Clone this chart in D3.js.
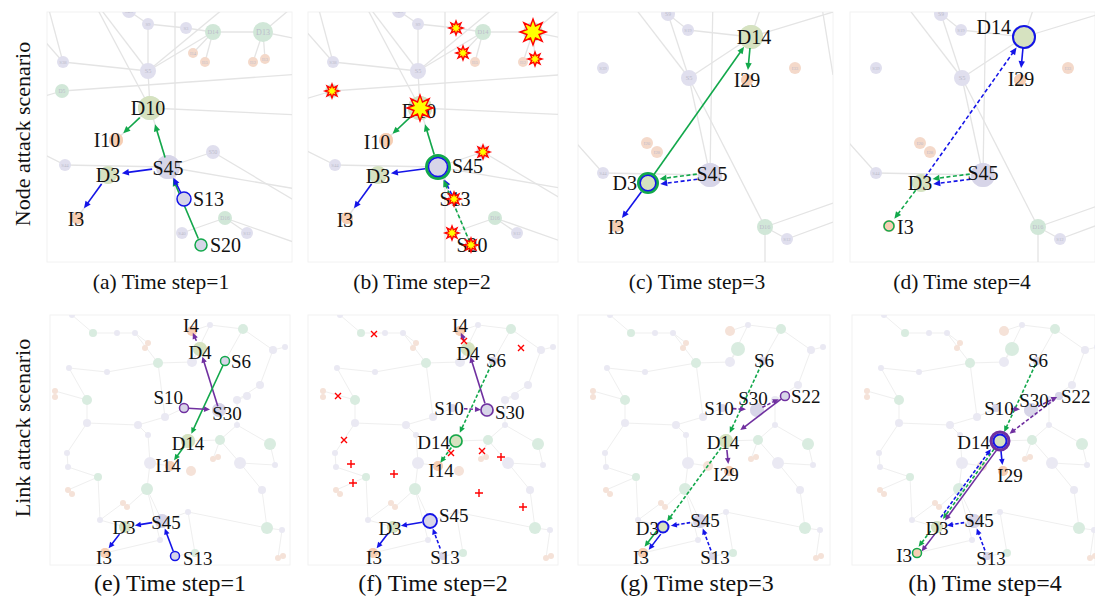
<!DOCTYPE html>
<html>
<head>
<meta charset="utf-8">
<script src="https://cdn.jsdelivr.net/npm/d3@7"></script>
<style>
  body { margin: 0; background: #fff; }
  text { font-family: "Liberation Serif", "Times New Roman", serif; }
</style>
</head>
<body>
<svg id="fig" width="1095" height="597"></svg>
<script>
// ---- graph layouts: [name, x, y, kind, radius]  (kind: p switch, g green, o orange, x off-panel anchor)
const nodesA = [
  ["S29",89,11,"p",7],["S9",108,24,"p",6],["S3",146,28,"p",6],["D14",173,32,"g",8],["D13",223,32,"g",10],
  ["I14",153,53,"o",5],["I15",165,62,"o",5],["I12",213,62,"o",5],["I13",225,59,"o",5],["S38",23,62,"p",6],
  ["S5",108,71,"p",8],["D5",22,91,"g",7],["D10",110,108,"g",12],["I10",76,140,"o",7],["S50",173,152,"p",7],
  ["S44",25,165,"p",6],["D3",68,175,"g",9],["S45",128,167,"p",12],["I3",37,218,"o",6],["S13",144,199,"p",6],
  ["D16",185,218,"g",7],["S40",142,233,"p",6],["S12",207,233,"p",6],["S20",161,245,"p",6],
  ["xa1",5,-5,"x",0],["xa2",50,-5,"x",0],["xa3",135,-5,"x",0],["xa4",255,5,"x",0],["xa5",262,40,"x",0],
  ["xa6",-5,99,"x",0],["xa7",262,74,"x",0],["xa8",262,115,"x",0],["xa9",-5,150,"x",0],["xa10",262,190,"x",0],
  ["xa11",135,265,"x",0],["xa12",262,245,"x",0],["xa13",262,205,"x",0],["xa14",200,-5,"x",0],["xa15",-5,30,"x",0]
];
const edgesA = [
  ["S29","S9"],["S9","S3"],["S3","D14"],["D14","D13"],["D13","xa4"],["D13","xa5"],["D14","I14"],["D14","I15"],
  ["D13","I12"],["D13","I13"],["S9","S5"],["S5","D10"],["S5","D14"],["xa2","S5"],["xa15","S38"],["xa1","S38"],
  ["xa6","D5"],["D5","xa7"],["D10","xa8"],["S45","D10"],["D10","I10"],["S45","S44"],["S44","xa9"],["S45","S50"],
  ["S45","xa10"],["xa3","xa11"],["S50","xa13"],["D16","S12"],["S40","D16"],["D16","xa12"],["S20","S45"],
  ["D3","I3"],["xa2","D10"],["S5","xa14"],["S38","S5"]
];

const nodesC = [
  ["S9",103,14,"p",7],["S19",123,30,"p",6],["D14",186,37,"g",12],["S39",38,68,"p",6],["S5",124,78,"p",8],
  ["I29",182,80,"o",6],["I33",230,68,"o",6],["I20",82,143,"o",6],["I28",92,152,"o",6],["S44",38,173,"p",6],
  ["D3",83,183,"g",9],["S45",145,175,"p",12],["I3",51,226,"o",6],["D16",200,227,"g",8],["S12",222,239,"p",6],
  ["xc1",60,-5,"x",0],["xc2",148,-5,"x",0],["xc3",200,-5,"x",0],["xc4",268,12,"x",0],["xc5",255,-5,"x",0],
  ["xc6",268,75,"x",0],["xc7",-5,125,"x",0],["xc8",268,203,"x",0],["xc9",268,222,"x",0],["xc10",200,268,"x",0]
];
const edgesC = [
  ["S9","S19"],["S19","D14"],["D14","xc4"],["xc3","D14"],["S5","D14"],["xc1","S5"],["S9","S5"],["xc2","S45"],
  ["S5","S45"],["S5","D16"],["D16","S12"],["D16","xc8"],["S12","xc9"],["D16","xc10"],["S44","S45"],
  ["xc7","S44"],["xc5","xc6"]
];

const nodesE = [
  ["I4",152,31,"o",5],["D4",160,49,"g",7],["S6",185,61,"p",4],["S10",144,108,"p",4],["S30",179,110,"p",7],
  ["S22",207,96,"p",4],["D14",148,141,"g",7],["I14",130,166,"o",5],["I29",151,171,"o",5],["S45",122,221,"p",7],
  ["D3",85,227,"g",6],["I3",65,253,"o",5],["S13",135,256,"p",4],
  ["G1",53,33,"g",4],["G2",203,29,"g",5],["G3",118,63,"g",5],["G4",47,100,"g",5],["G5",180,140,"g",5],
  ["G6",230,144,"g",6],["G7",58,177,"g",4],["G8",107,189,"g",6],["G9",227,228,"g",6],["G10",155,253,"g",4],
  ["P1",32,15,"p",3],["P2",77,33,"p",3],["P3",95,33,"p",3],["P4",152,62,"p",5],["P5",233,50,"p",4],
  ["P6",245,47,"p",3],["P7",29,68,"p",3],["P8",67,72,"p",3],["P9",220,85,"p",4],["P10",197,100,"p",4],
  ["P11",125,117,"p",4],["P12",47,123,"p",4],["P13",98,125,"p",4],["P14",197,125,"p",3],["P15",108,135,"p",3],
  ["P16",27,153,"p",3],["P17",28,167,"p",3],["P18",110,163,"p",6],["P19",200,163,"p",6],["P20",235,165,"p",3],
  ["P21",222,190,"p",4],["P22",148,212,"p",3],["P23",60,220,"p",3],["P24",242,230,"p",3],["P25",170,25,"p",3],
  ["P26",120,240,"p",3],
  ["O1",105,48,"o",3],["O2",108,43,"o",3],["O3",15,97,"o",3],["O4",15,91,"o",3],["O5",173,159,"o",3],
  ["O6",178,157,"o",3],["O7",28,190,"o",3],["O8",32,194,"o",3],["O9",83,203,"o",3],["O10",87,207,"o",3],
  ["O11",238,258,"o",3],["O12",243,256,"o",3]
];
const edgesE = [
  ["G1","P2"],["P2","P3"],["P3","O2"],["O1","O2"],["P3","G3"],["G3","P4"],["P4","D4"],["G3","P8"],["P8","P7"],
  ["P7","G4"],["G4","O4"],["O3","O4"],["G4","P12"],["P12","P16"],["P16","P17"],["P17","G7"],["G7","O7"],
  ["O7","O8"],["G7","P23"],["P23","O9"],["O9","O10"],["O10","G8"],["G8","P18"],["P18","P15"],["P15","P13"],
  ["P13","P12"],["P13","P11"],["P11","S10"],["P11","G3"],["G8","S45"],["S45","P22"],["P22","G10"],["G10","S13"],
  ["P22","G9"],["G9","P24"],["G9","P21"],["P21","P19"],["P19","P20"],["P20","G6"],["G6","P14"],["P14","G5"],
  ["G5","O5"],["O5","O6"],["G5","D14"],["P14","P10"],["P10","S22"],["P9","P10"],["P9","P5"],["P5","P6"],
  ["P5","G2"],["G2","P25"],["P25","I4"],["G2","S6"],["P1","G1"],["P18","I14"],["D3","S45"],["P23","D3"],
  ["G8","P26"],["P26","I3"],["O12","O11"],["O11","P24"],["P19","G5"],["P4","P25"]
];

// ---- per panel content
const captions = ["(a) Time step=1","(b) Time step=2","(c) Time step=3","(d) Time step=4",
                  "(e) Time step=1","(f) Time step=2","(g) Time step=3","(h) Time step=4"];
const rowTitles = ["Node attack scenario","Link attack scenario"];

// arrows: [from, to, colour, dashed, lane, trimStart, trimEnd]
const arrowsA = [["S20","S45","g",0,0,7,13],["S13","S45","b",0,0,7,12],["S45","D10","g",0,0,10,17],
  ["D10","I10","g",0,0,14,10],["S45","D3","b",0,0,16,14],["D3","I3","b",0,0,11,12]];
const arrowsB = [["S45","D10","g",0,0,13,17],["D10","I10","g",0,0,13,9],["S45","D3","b",0,0,13,13],
  ["D3","I3","b",0,0,11,12],["S13","S45","b",1,0,5,14],["S20","S45","g",1,0,3,14]];
const arrowsC = [["D3","D14","g",0,0,10,12],["D14","I29","g",0,0,11,10],["S45","D3","g",1,-1,13,12],
  ["S45","D3","b",1,1,13,12],["D3","I3","b",0,0,11,10]];
const arrowsD = [["D3","D14","b",1,0,7,13],["D14","I29","b",0,0,11,12],["S45","D3","g",1,-1,13,12],
  ["S45","D3","b",1,1,13,12],["D3","I3","g",1,0,9,9]];
const arrowsE = [["S30","D4","p",0,0,4,8],["D4","I4","p",0,0,9,2],["S6","D14","g",0,0,3,8],
  ["D14","I14","g",0,0,7,7],["S10","S30","p",0,0,4,9],["S45","D3","b",0,0,10,10],["D3","I3","b",0,0,9,6],
  ["S13","S45","b",0,0,5,8]];
const arrowsF = [["S30","D4","p",0,0,7,8],["D4","I4","p",0,0,9,2],["S6","D14","g",1,0,4,9],
  ["D14","I14","g",1,0,8,4],["S10","S30","p",1,0,12,6],["S45","D3","b",0,0,8,8],["D3","I3","b",0,0,8,6],
  ["S13","S45","b",1,0,8,8]];
const arrowsG = [["S6","D14","g",1,0,4,9],["D14","D3","g",1,0,8,7],["D3","I3","g",0,-1,7,6],
  ["D3","I3","b",0,1,7,6],["S10","S30","p",1,0,11,11],["S30","S22","p",1,0,6,7],["S22","D14","p",0,0,5,18],
  ["D14","I29","p",0,0,9,7],["S45","D3","b",1,0,10,8],["S13","S45","b",1,0,6,8]];
const arrowsH = [["S6","D14","g",1,0,4,10],["S10","S30","p",1,0,15,11],["S30","S22","p",1,0,8,2],
  ["S22","D14","p",1,0,5,12],["D14","I29","b",0,0,9,6],["D3","D14","b",1,-1,10,12],["D14","D3","g",1,0,10,10],
  ["D14","D3","p",0,1,10,10],["D3","I3","g",1,-1,7,6],["D3","I3","p",0,1,7,4],["S45","D3","b",1,0,10,10],
  ["S13","S45","b",1,0,6,8]];

// rings: [node, colour, radius, width]
const ringsA = [["S13","b",7,1.5],["S20","g",6,1.5]];
const ringsB = [["S45","g",11.5,3],["S45","b",9.5,1.5]];
const ringsC = [["D3","g",9.5,3],["D3","b",7.8,1.5]];
const ringsD = [["D14","b",11,2],["I3","g",5,1.5]];
const ringsE = [["S6","g",4.5,1.5],["S10","p",4.5,1.5],["S13","b",4.5,1.5]];
const ringsF = [["S30","p",6,1.6],["D14","g",6,1.6],["S45","b",7,1.8]];
const ringsG = [["S22","p",4.5,1.5],["D3","b",5.5,2]];
const ringsH = [["D14","p",9,3],["D14","b",6.5,2],["I3","g",4.5,1.5]];

// labels: [node, anchor, dx, dy]
const labelsA = [["D10","m",-2,0],["I10","m",-9,0],["S45","m",0,1],["D3","m",0,0],["I3","m",-1,1],
  ["S13","s",9,0],["S20","s",9,0]];
const labelsB = [["D10","m",-1,3],["I10","m",-9,2],["S45","s",14,-1],["D3","m",0,1],["I3","m",-2,2],
  ["S13","m",1,0],["S20","m",1,0]];
const labelsC = [["D14","m",3,0],["I29","m",0,0],["D3","e",-11,0],["S45","m",2,-1],["I3","m",0,1]];
const labelsD = [["D14","e",-13,-10],["I29","m",1,-1],["D3","m",-1,0],["S45","m",0,-2],["I3","s",8,1]];
const labelsE = [["I4","m",-1,-6],["D4","m",0,3],["S6","s",6,0],["S10","e",-1,-11],["S30","m",8,3],
  ["D14","m",0,2],["I14","m",-2,-1],["S45","m",4,1],["D3","m",-1,0],["I3","m",-1,4],["S13","s",8,2]];
const labelsF = [["I4","m",0,-6],["D4","m",0,4],["S6","m",3,-1],["S10","m",-3,0],["S30","s",8,2],
  ["D14","e",-6,1],["I14","m",3,4],["S45","s",9,-6],["D3","m",-3,1],["I3","m",1,4],["S13","m",2,1]];
const labelsG = [["S6","m",1,-1],["S10","m",-3,0],["S30","m",-4,-12],["S22","s",6,0],["D14","m",-3,1],
  ["I29","m",-3,3],["S45","m",5,-1],["D3","e",-4,1],["I3","m",-2,4],["S13","m",2,1]];
const labelsH = [["S6","m",1,-1],["S10","m",3,0],["S30","m",3,-10],["S22","s",2,0],["D14","e",-10,1],
  ["I29","m",7,4],["S45","m",5,-1],["D3","m",0,1],["I3","e",-5,2],["S13","m",4,2]];

// attacked nodes (b) and attacked links (f)
const starNodes = ["S3","I14","D13","I13","D5","D10","S50","S13","S40","S20"];
const bigStars = ["D13","D10"];
const crossMarks = [[66,34],[156,41],[213,48],[30,96],[36,140],[143,153],[174,151]];
const plusMarks = [[43,164],[45,183],[86,174],[193,157],[171,193],[215,207]];

// ---- panel placement
const layouts = { A: [nodesA, edgesA], C: [nodesC, edgesC], E: [nodesE, edgesE] };
const panels = [
  { layout: "A", ox: 40,  oy: 0,   frame: [47, 12, 245, 250],  cap: [161, 289], arrows: arrowsA, rings: ringsA, labels: labelsA },
  { layout: "A", ox: 310, oy: 0,   frame: [308, 12, 250, 250], cap: [422, 289], arrows: arrowsB, rings: ringsB, labels: labelsB, stars: true },
  { layout: "C", ox: 565, oy: 0,   frame: [578, 12, 255, 250], cap: [697, 289], arrows: arrowsC, rings: ringsC, labels: labelsC },
  { layout: "C", ox: 838, oy: 0,   frame: [850, 12, 245, 250], cap: [962, 289], arrows: arrowsD, rings: ringsD, labels: labelsD },
  { layout: "E", ox: 40,  oy: 300, frame: [50, 315, 240, 250], cap: [170, 591], arrows: arrowsE, rings: ringsE, labels: labelsE },
  { layout: "E", ox: 308, oy: 300, frame: [308, 315, 250, 250], cap: [433, 591], arrows: arrowsF, rings: ringsF, labels: labelsF, marks: true },
  { layout: "E", ox: 578, oy: 300, frame: [578, 315, 252, 250], cap: [697, 591], arrows: arrowsG, rings: ringsG, labels: labelsG },
  { layout: "E", ox: 852, oy: 300, frame: [852, 315, 243, 250], cap: [985, 591], arrows: arrowsH, rings: ringsH, labels: labelsH }
];

const colour = d3.scaleOrdinal().domain(["g", "b", "p"]).range(["#12a84b", "#1414e8", "#7030a0"]);
const fillHi = { p: "#d7d5e8", g: "#d6e2c0", o: "#f7ceb3" };
const fillTop = { p: "#e0dfee", g: "#d1e7d8", o: "#f4d9ca" };
const fillBot = { p: "#eae9f3", g: "#d9ece0", o: "#f5e2d8" };
const anchorOf = { m: "middle", s: "start", e: "end" };

const svg = d3.select("#fig");

function starPath(r) {
  const pts = d3.range(16).map(function(k) {
    const a = k * Math.PI / 8 - Math.PI / 2, rr = k % 2 ? r * 0.5 : r;
    return [Math.cos(a) * rr, Math.sin(a) * rr];
  });
  return "M" + pts.join("L") + "Z";
}

panels.forEach(function(p, i) {
  const [nodes, edges] = layouts[p.layout];
  const byName = new Map(nodes.map(d => [d[0], d]));
  const x = d3.scaleLinear().domain([0, 250]).range([p.ox, p.ox + 250]);
  const y = d3.scaleLinear().domain([0, 250]).range([p.oy, p.oy + 250]);
  const top = p.oy === 0;
  const fs = top ? 20 : 19;
  const head = top ? [7, 3.2] : [6, 2.8];
  const dash = top ? "4,2.5" : "3.5,2";
  const named = new Set(p.labels.map(l => l[0]));

  svg.append("clipPath").attr("id", "clip" + i).append("rect")
    .attr("x", p.frame[0]).attr("y", p.frame[1]).attr("width", p.frame[2]).attr("height", p.frame[3]);
  svg.append("rect")
    .attr("x", p.frame[0]).attr("y", p.frame[1]).attr("width", p.frame[2]).attr("height", p.frame[3])
    .attr("fill", "#fff").attr("stroke", "#f2f2f2");

  const g = svg.append("g").attr("clip-path", `url(#clip${i})`);

  // faded background network
  g.append("g").selectAll("line").data(edges).join("line")
    .attr("x1", d => x(byName.get(d[0])[1])).attr("y1", d => y(byName.get(d[0])[2]))
    .attr("x2", d => x(byName.get(d[1])[1])).attr("y2", d => y(byName.get(d[1])[2]))
    .attr("stroke", top ? "#e4e4e4" : "#efefef").attr("stroke-width", top ? 1.3 : 1);

  const shown = nodes.filter(d => d[3] !== "x");
  g.append("g").selectAll("circle").data(shown).join("circle")
    .attr("cx", d => x(d[1])).attr("cy", d => y(d[2])).attr("r", d => d[4])
    .attr("fill", d => (top ? fillTop : fillBot)[d[3]]);
  if (top) {
    g.append("g").selectAll("text").data(shown.filter(d => !named.has(d[0]))).join("text")
      .attr("x", d => x(d[1])).attr("y", d => y(d[2])).attr("dy", "0.35em")
      .attr("text-anchor", "middle").attr("font-size", d => Math.max(4.5, d[4] * 0.8))
      .attr("fill", "#bcbccb").text(d => d[0]);
  }

  // nodes on the attack paths
  const hi = p.labels.map(l => byName.get(l[0]));
  g.append("g").selectAll("circle").data(hi).join("circle")
    .attr("cx", d => x(d[1])).attr("cy", d => y(d[2])).attr("r", d => d[4])
    .attr("fill", d => fillHi[d[3]]);

  // arrows
  const ag = g.append("g");
  p.arrows.forEach(function(a) {
    const s = byName.get(a[0]), t = byName.get(a[1]);
    let fx = x(s[1]), fy = y(s[2]), tx = x(t[1]), ty = y(t[2]);
    const lo = fx <= tx ? [fx, fy, tx, ty] : [tx, ty, fx, fy];
    const len = Math.hypot(lo[2] - lo[0], lo[3] - lo[1]);
    const px = -(lo[3] - lo[1]) / len, py = (lo[2] - lo[0]) / len;
    const off = a[4] * 2.6;
    fx += px * off; fy += py * off; tx += px * off; ty += py * off;
    const ux = (tx - fx) / len, uy = (ty - fy) / len;
    const sx = fx + ux * a[5], sy = fy + uy * a[5];
    const ex = tx - ux * a[6], ey = ty - uy * a[6];
    const bx = ex - ux * head[0], by = ey - uy * head[0];
    ag.append("line")
      .attr("x1", sx).attr("y1", sy).attr("x2", bx + ux).attr("y2", by + uy)
      .attr("stroke", colour(a[2])).attr("stroke-width", 1.6)
      .attr("stroke-dasharray", a[3] ? dash : null);
    ag.append("path")
      .attr("d", d3.line()([[ex, ey], [bx - uy * head[1], by + ux * head[1]], [bx + uy * head[1], by - ux * head[1]]]) + "Z")
      .attr("fill", colour(a[2]));
  });

  // highlight rings
  g.append("g").selectAll("circle").data(p.rings).join("circle")
    .attr("cx", d => x(byName.get(d[0])[1])).attr("cy", d => y(byName.get(d[0])[2]))
    .attr("r", d => d[2]).attr("fill", (d, k) => k === 0 || d[0] !== p.rings[k - 1][0] ? fillHi[byName.get(d[0])[3]] : "none")
    .attr("stroke", d => colour(d[1])).attr("stroke-width", d => d[3]);

  // labels (not clipped, they may run past the panel edge)
  svg.append("g").selectAll("text").data(p.labels).join("text")
    .attr("x", d => x(byName.get(d[0])[1] + d[2])).attr("y", d => y(byName.get(d[0])[2] + d[3]))
    .attr("dy", "0.35em").attr("text-anchor", d => anchorOf[d[1]])
    .attr("font-size", fs).attr("fill", "#111").text(d => d[0]);

  // attacked nodes
  if (p.stars) {
    svg.append("g").selectAll("path").data(starNodes).join("path")
      .attr("transform", d => `translate(${x(byName.get(d)[1])},${y(byName.get(d)[2])})`)
      .attr("d", d => starPath(bigStars.includes(d) ? 13 : 7))
      .attr("fill", "#ffff00").attr("stroke", "#ff0000").attr("stroke-width", 1.4);
  }
  // attacked links
  if (p.marks) {
    const mk = svg.append("g").attr("stroke", "#ff0000").attr("stroke-width", 1.4);
    mk.selectAll(".cross").data(crossMarks).join("path").attr("class", "cross")
      .attr("d", d => `M${x(d[0]) - 3},${y(d[1]) - 3}L${x(d[0]) + 3},${y(d[1]) + 3}M${x(d[0]) - 3},${y(d[1]) + 3}L${x(d[0]) + 3},${y(d[1]) - 3}`);
    mk.selectAll(".plus").data(plusMarks).join("path").attr("class", "plus")
      .attr("d", d => `M${x(d[0]) - 4},${y(d[1])}L${x(d[0]) + 4},${y(d[1])}M${x(d[0])},${y(d[1]) - 4}L${x(d[0])},${y(d[1]) + 4}`);
  }

  svg.append("text")
    .attr("x", p.cap[0]).attr("y", p.cap[1]).attr("text-anchor", "middle")
    .attr("font-size", top ? 21.5 : 24).attr("fill", "#111").text(captions[i]);
});

svg.selectAll(".rowtitle").data(rowTitles).join("text").attr("class", "rowtitle")
  .attr("transform", (d, k) => `translate(30,${k ? 428 : 134}) rotate(-90)`)
  .attr("text-anchor", "middle").attr("font-size", 22).attr("fill", "#111").text(d => d);
</script>
</body>
</html>
